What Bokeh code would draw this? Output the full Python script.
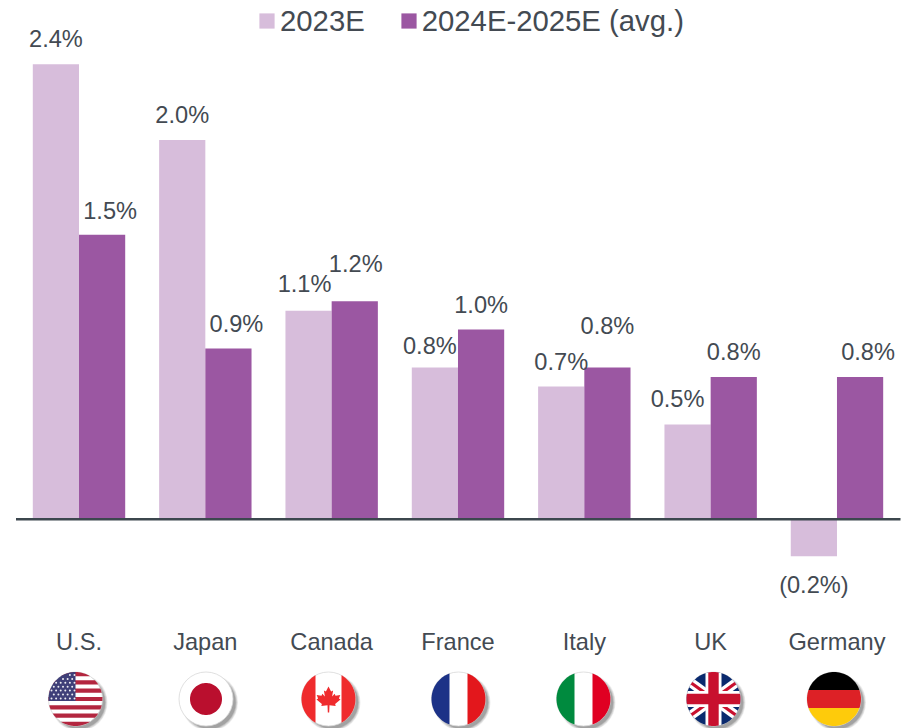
from bokeh.plotting import figure
from bokeh.models import Range1d, Legend, LegendItem
from bokeh.core.properties import value
from bokeh.embed import file_html
from bokeh.resources import INLINE
import numpy as np

# ---- data ----
categories = ["U.S.", "Japan", "Canada", "France", "Italy", "UK", "Germany"]
values_2023 = [2.4, 2.0, 1.1, 0.8, 0.7, 0.5, -0.195]
values_2024 = [1.5, 0.9, 1.15, 1.0, 0.8, 0.75, 0.75]
labels_2023 = ["2.4%", "2.0%", "1.1%", "0.8%", "0.7%", "0.5%", "(0.2%)"]
labels_2024 = ["1.5%", "0.9%", "1.2%", "1.0%", "0.8%", "0.8%", "0.8%"]
series_names = ["2023E", "2024E-2025E (avg.)"]

# ---- layout ----
W, H = 909, 728
PX_L, PX_T = 0, 0
GROUP = 126.33
BAR_W = 46.2
X0 = 78.5
Y0 = 518.7
UNIT = 189.6
dx_2023 = [0, 0, -4, -5, 0, -10, 0]
dy_2023 = [-25, -25, -27, -22, -24, -25, 29]
dx_2024 = [8, 8, 1, 0, 0, 0, 8]
dy_2024 = [-24, -25, -37, -25, -42, -25, -25]
flag_x = [75, 205.5, 328, 458, 583, 713, 833.5]
FLAG_Y, FLAG_R = 698.5, 27
LIGHT, DARK, INK, AXIS = "#d7bddb", "#9b57a2", "#434a52", "#3c474e"
FONT = "Liberation Sans"

p = figure(width=W, height=H, output_backend="svg", toolbar_location=None,
           x_range=Range1d((PX_L - X0) / GROUP, (PX_L + W - X0) / GROUP),
           y_range=Range1d((Y0 - PX_T - H) / UNIT, (Y0 - PX_T) / UNIT),
           min_border=0, outline_line_color=None, background_fill_color="white")
p.xaxis.visible = False
p.yaxis.visible = False
p.xgrid.visible = False
p.ygrid.visible = False
# second scale in page pixels for the decorations
p.extra_x_ranges["px"] = Range1d(PX_L, PX_L + W)
p.extra_y_ranges["px"] = Range1d(PX_T + H, PX_T)

idx = np.arange(len(categories), dtype=float)
shift = BAR_W / GROUP / 2
width = BAR_W / GROUP

r1 = p.vbar(x=idx - shift, top=values_2023, bottom=0, width=width, fill_color=LIGHT, line_color=None)
r2 = p.vbar(x=idx + shift, top=values_2024, bottom=0, width=width, fill_color=DARK, line_color=None)

# baseline
p.line(x=[15.5, 900], y=[0, 0], x_range_name="px", line_color=AXIS, line_width=2.6)

# value labels
common = dict(text_font=value(FONT), text_font_size="23.6px", text_color=INK,
              text_align="center", text_baseline="middle")
p.text(x=idx - shift, y=values_2023, text=labels_2023,
       x_offset=dx_2023, y_offset=dy_2023, **common)
p.text(x=idx + shift, y=values_2024, text=labels_2024,
       x_offset=dx_2024, y_offset=dy_2024, **common)
# category labels
p.text(x=idx, y=[641.5] * len(categories), y_range_name="px", text=categories, **common)

# legend
legend = Legend(items=[LegendItem(label=series_names[0], renderers=[r1]),
                       LegendItem(label=series_names[1], renderers=[r2])],
                orientation="horizontal", location=(257, H - 37.5), margin=0, padding=0,
                spacing=34, glyph_width=19, glyph_height=19, label_standoff=4,
                label_text_font=FONT, label_text_font_size="29.3px", label_text_color=INK,
                label_height=15, label_text_baseline="middle",
                background_fill_alpha=0, border_line_color=None)
p.add_layout(legend, "center")


# ---- flags ----
def circle_poly(cx, cy, r, n=96):
    t = np.linspace(0, 2 * np.pi, n, endpoint=False)
    return list(zip(cx + r * np.cos(t), cy + r * np.sin(t)))


def clip(subject, clipper):
    """Sutherland-Hodgman clip against a convex polygon."""
    out = list(subject)
    area = sum(clipper[i][0] * clipper[(i + 1) % len(clipper)][1]
               - clipper[(i + 1) % len(clipper)][0] * clipper[i][1] for i in range(len(clipper)))
    sign = 1 if area > 0 else -1
    for i in range(len(clipper)):
        ax, ay = clipper[i]
        bx, by = clipper[(i + 1) % len(clipper)]
        side = lambda q: sign * ((bx - ax) * (q[1] - ay) - (by - ay) * (q[0] - ax))
        inp, out = out, []
        for j in range(len(inp)):
            c, d = inp[j], inp[(j + 1) % len(inp)]
            sc, sd = side(c), side(d)
            if sc >= 0:
                out.append(c)
            if sc * sd < 0:
                f = sc / (sc - sd)
                out.append((c[0] + f * (d[0] - c[0]), c[1] + f * (d[1] - c[1])))
        if not out:
            break
    return out


px_kw = dict(x_range_name="px", y_range_name="px")
xs, ys, cols = [], [], []


def add(poly, color, circ):
    poly = clip(poly, circ)
    if len(poly) >= 3:
        xs.append([q[0] for q in poly])
        ys.append([q[1] for q in poly])
        cols.append(color)


def rect(x0, y0, x1, y1):
    return [(x0, y0), (x1, y0), (x1, y1), (x0, y1)]


def band(x1, y1, x2, y2, w):
    dx, dy = x2 - x1, y2 - y1
    L = np.hypot(dx, dy)
    nx, ny = -dy / L * w / 2, dx / L * w / 2
    return [(x1 + nx, y1 + ny), (x2 + nx, y2 + ny), (x2 - nx, y2 - ny), (x1 - nx, y1 - ny)]


R = FLAG_R
y, r = FLAG_Y, R

# shadows
for k, (grow, alpha) in enumerate([(1.5, 0.10), (0.8, 0.14), (0.0, 0.2), (-0.8, 0.25)]):
    p.scatter(x=[c + 3.5 for c in flag_x], y=[y + 3.5] * 7, size=2 * (R + grow),
              marker="circle", fill_color="#555555", fill_alpha=alpha, line_color=None, **px_kw)
# white bases
p.scatter(x=flag_x, y=[y] * 7, size=2 * R, marker="circle", fill_color="white",
          line_color="#d8d8d8", line_width=0.8, **px_kw)

# U.S.
c = flag_x[0]
circ = circle_poly(c, y, r)
stripe = 2 * r / 13
for i in range(0, 13, 2):
    add(rect(c - r, y - r + i * stripe, c + r, y - r + (i + 1) * stripe), "#b3263f", circ)
add(rect(c - r, y - r, c, y - r + 7 * stripe), "#3f3f78", circ)
star_x, star_y = [], []
for row in range(7):
    for col in range(6):
        star_x.append(c - r + 3 + col * 4.6 + (2.3 if row % 2 else 0))
        star_y.append(y - r + 3 + row * 3.9)
star_keep = [(sx, sy) for sx, sy in zip(star_x, star_y)
             if sx < c - 0.5 and (sx - c) ** 2 + (sy - y) ** 2 < (r - 1.5) ** 2]

# Japan
c = flag_x[1]
add(circle_poly(c, y, 16), "#ba0f2e", circle_poly(c, y, r))

# Canada
c = flag_x[2]
circ = circle_poly(c, y, r)
add(rect(c - r, y - r, c - 13, y + r), "#ef2b2d", circ)
add(rect(c + 13, y - r, c + r, y + r), "#ef2b2d", circ)
half_leaf = [(0, -12.5), (2.6, -7.5), (4.6, -8.6), (3.6, -2.4), (6.2, -5.2), (7, -3.2), (11.8, -4),
             (10.4, -0.4), (12, 0.6), (6.6, 5), (7.2, 7), (1, 6.2), (0.7, 13.5)]
leaf = [(c + a, y + b) for a, b in half_leaf] + [(c - a, y + b) for a, b in reversed(half_leaf)]
xs.append([q[0] for q in leaf]); ys.append([q[1] for q in leaf]); cols.append("#ef2b2d")

# France
c = flag_x[3]
circ = circle_poly(c, y, r)
add(rect(c - r, y - r, c - 9, y + r), "#1c3287", circ)
add(rect(c + 9, y - r, c + r, y + r), "#e3171c", circ)

# Italy
c = flag_x[4]
circ = circle_poly(c, y, r)
add(rect(c - r, y - r, c - 9, y + r), "#008a3e", circ)
add(rect(c + 9, y - r, c + r, y + r), "#e00022", circ)

# UK
c = flag_x[5]
circ = circle_poly(c, y, r)
add(rect(c - r, y - r, c + r, y + r), "#0a2a6e", circ)
for a, b in [((-r, -r * 0.72), (r, r * 0.72)), ((-r, r * 0.72), (r, -r * 0.72))]:
    add(band(c + a[0], y + a[1], c + b[0], y + b[1], 9.5), "white", circ)
for a, b in [((-r, -r * 0.72), (r, r * 0.72)), ((-r, r * 0.72), (r, -r * 0.72))]:
    add(band(c + a[0], y + a[1], c + b[0], y + b[1], 3.2), "#c8102e", circ)
add(rect(c - r, y - 8, c + r, y + 8), "white", circ)
add(rect(c - 8, y - r, c + 8, y + r), "white", circ)
add(rect(c - r, y - 5.2, c + r, y + 5.2), "#c8102e", circ)
add(rect(c - 5.2, y - r, c + 5.2, y + r), "#c8102e", circ)

# Germany
c = flag_x[6]
circ = circle_poly(c, y, r)
add(rect(c - r, y - r, c + r, y - r / 3), "#000000", circ)
add(rect(c - r, y - r / 3, c + r, y + r / 3), "#dd2126", circ)
add(rect(c - r, y + r / 3, c + r, y + r), "#fecb0b", circ)

p.patches(xs=xs, ys=ys, fill_color=cols, line_color=None, **px_kw)
p.scatter(x=[s[0] for s in star_keep], y=[s[1] for s in star_keep], size=2, marker="circle",
          fill_color="white", fill_alpha=0.9, line_color=None, **px_kw)

open("out.html", "w").write(file_html(p, INLINE))
